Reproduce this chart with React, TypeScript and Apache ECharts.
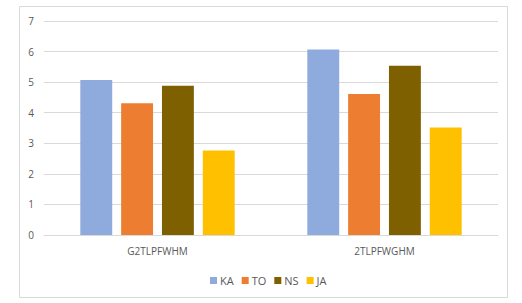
import React, { useEffect, useRef } from "react";
import * as echarts from "echarts";

const categories = ["G2TLPFWHM", "2TLPFWGHM"];
const seriesNames = ["KA", "TO", "NS", "JA"];
const KA = [5.07, 6.07];
const TO = [4.31, 4.61];
const NS = [4.88, 5.54];
const JA = [2.76, 3.52];
const colors = ["#8faadc", "#ed7d31", "#7f6000", "#ffc000"];

export default function App() {
  const ref = useRef<HTMLDivElement>(null);
  useEffect(() => {
    if (!ref.current) return;
    const chart = echarts.init(ref.current, undefined, { renderer: "svg" });
    const values = [KA, TO, NS, JA];
    const font = "'Open Sans', 'Noto Sans', sans-serif";
    chart.setOption({
      animation: false,
      backgroundColor: "#ffffff",
      graphic: [
        {
          type: "rect",
          shape: { x: 19.5, y: 6.5, width: 488, height: 291 },
          style: { fill: "none", stroke: "#d9d9d9", lineWidth: 1 },
          silent: true,
        },
      ],
      grid: { left: 44, right: 24, top: 21, bottom: 68, containLabel: false },
      legend: {
        data: seriesNames,
        top: 270,
        left: 205,
        itemWidth: 7,
        itemHeight: 7,
        itemGap: 8,
        icon: "rect",
        textStyle: { color: "#595959", fontSize: 11, fontFamily: font, padding: [0, 0, 0, -2] },
      },
      xAxis: {
        type: "category",
        data: categories,
        axisLine: { lineStyle: { color: "#d9d9d9" } },
        axisTick: { show: false },
        axisLabel: { color: "#595959", fontSize: 10, fontFamily: font, margin: 11 },
      },
      yAxis: {
        type: "value",
        min: 0,
        max: 7,
        interval: 1,
        axisLine: { show: false },
        axisTick: { show: false },
        splitLine: { lineStyle: { color: "#d9d9d9" } },
        axisLabel: { color: "#595959", fontSize: 10, fontFamily: font, margin: 10 },
      },
      series: seriesNames.map((name, i) => ({
        name,
        type: "bar",
        data: values[i],
        barGap: "28%",
        barCategoryGap: "32%",
        itemStyle: { color: colors[i] },
      })),
    });
    return () => chart.dispose();
  }, []);
  return (
    <div
      ref={ref}
      style={{ position: "fixed", left: 0, top: 0, width: 522, height: 303 }}
    />
  );
}
